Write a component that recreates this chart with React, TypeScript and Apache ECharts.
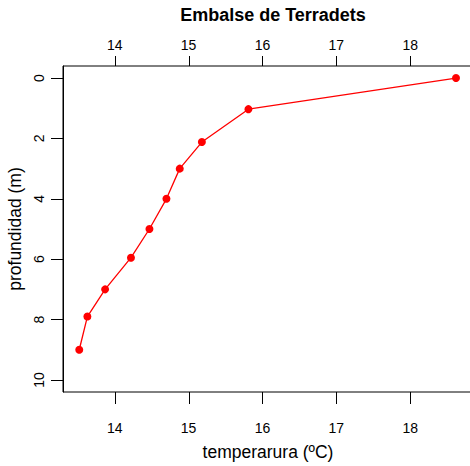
import React, { useEffect, useRef } from "react";
import * as echarts from "echarts";

const temperatura = [18.62, 15.81, 15.18, 14.88, 14.7, 14.47, 14.22, 13.87, 13.63, 13.52];
const profundidad = [0, 1.03, 2.12, 3.0, 4.0, 5.0, 5.95, 7.0, 7.9, 9.0];
const xTicks = [14, 15, 16, 17, 18];
const yTicks = [0, 2, 4, 6, 8, 10];

const FONT = "'Liberation Sans', Arial, Helvetica, sans-serif";
const X_MIN = 13.3;
const X_MAX = 18.85;
const Y_MIN = -0.4;
const Y_MAX = 10.4;

export default function App() {
  const ref = useRef<HTMLDivElement>(null);
  useEffect(() => {
    if (!ref.current) return;
    const chart = echarts.init(ref.current, undefined, { renderer: "svg" });
    const data = temperatura.map((t, i) => [t, profundidad[i]]);
    const mkX = (pos: string, margin: number) => ({
      type: "value",
      position: pos,
      min: X_MIN,
      max: X_MAX,
      splitLine: { show: false },
      axisLine: { show: false, onZero: false },
      axisTick: { show: false },
      axisLabel: {
        customValues: xTicks,
        margin,
        color: "#000",
        fontFamily: FONT,
        fontSize: 14,
      },
    });
    chart.setOption({
      animation: false,
      backgroundColor: "#fff",
      title: {
        text: "Embalse de Terradets",
        left: 268,
        textAlign: "center",
        top: 1,
        textStyle: { fontFamily: FONT, fontSize: 18, fontWeight: "bold", color: "#000" },
      },
      grid: {
        left: 63,
        top: 66,
        width: 410,
        height: 326,
        outerBoundsMode: "none",
        containLabel: false,
        show: true,
        borderColor: "#000",
        borderWidth: 1,
        backgroundColor: "transparent",
      },
      xAxis: [
        {
          ...mkX("bottom", 29),
          name: "temperarura (ºC)",
          nameLocation: "middle",
          nameGap: 51,
          nameTextStyle: { fontFamily: FONT, fontSize: 17.5, color: "#000" },
        },
        mkX("top", 14),
      ],
      yAxis: {
        type: "value",
        inverse: true,
        min: Y_MIN,
        max: Y_MAX,
        splitLine: { show: false },
        axisLine: { show: true, onZero: false, lineStyle: { color: "#000", width: 1 } },
        axisTick: {
          show: true,
          inside: false,
          customValues: yTicks,
          length: 12,
          lineStyle: { color: "#000", width: 1 },
        },
        axisLabel: {
          customValues: yTicks,
          rotate: 90,
          margin: 17,
          color: "#000",
          fontFamily: FONT,
          fontSize: 14,
        },
        name: "profundidad (m)",
        nameLocation: "middle",
        nameGap: 35,
        nameTextStyle: { fontFamily: FONT, fontSize: 17.5, color: "#000" },
      },
      series: [
        {
          type: "line",
          xAxisIndex: 0,
          data,
          symbol: "circle",
          symbolSize: 8,
          itemStyle: { color: "#ff0000" },
          lineStyle: { color: "#ff0000", width: 1.3 },
        },
      ],
    });
    const yTop = chart.convertToPixel({ yAxisIndex: 0 }, Y_MIN) as number;
    const yBottom = chart.convertToPixel({ yAxisIndex: 0 }, Y_MAX) as number;
    const tickStyle = { stroke: "#000", lineWidth: 1 };
    const tickLines: any[] = [];
    xTicks.forEach((v) => {
      const px = Math.round(chart.convertToPixel({ xAxisIndex: 0 }, v) as number) + 0.5;
      tickLines.push({
        type: "line",
        silent: true,
        z: 10,
        shape: { x1: px, y1: yBottom, x2: px, y2: yBottom + 12 },
        style: tickStyle,
      });
      tickLines.push({
        type: "line",
        silent: true,
        z: 10,
        shape: { x1: px, y1: yTop, x2: px, y2: yTop - 10 },
        style: tickStyle,
      });
    });
    chart.setOption({ graphic: tickLines });
    return () => chart.dispose();
  }, []);
  return (
    <div
      ref={ref}
      style={{ position: "fixed", left: 0, top: 0, width: 470, height: 466, background: "#fff" }}
    />
  );
}
